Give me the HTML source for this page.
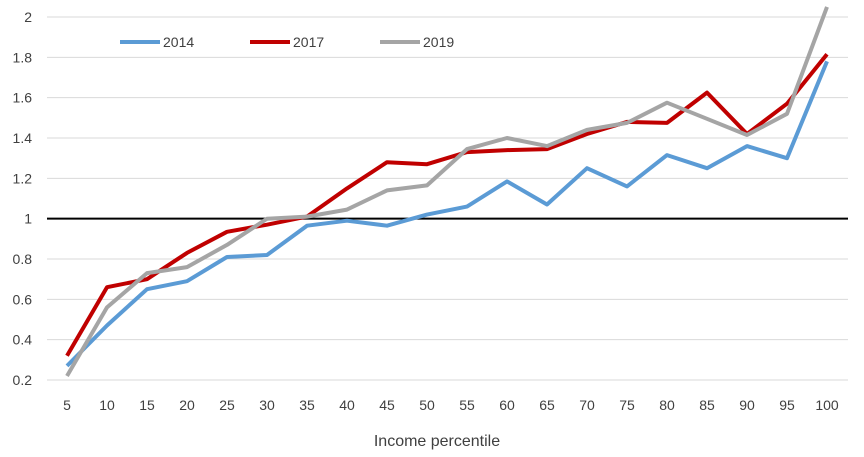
<!DOCTYPE html>
<html><head><meta charset="utf-8"><style>
html,body{margin:0;padding:0;background:#fff;}
svg{display:block;font-family:"Liberation Sans",Calibri,sans-serif;}
</style></head><body>
<svg id="c" width="864" height="457" xmlns="http://www.w3.org/2000/svg"></svg>
<script>
const s=document.getElementById('c');
const Y=v=>380-(v-0.2)*201.67, X=i=>67+i*40;
let h='<defs><clipPath id="cl"><rect x="40" y="3" width="820" height="400"/></clipPath></defs>';
for(let k=0;k<10;k++){const v=0.2+k*0.2,y=Y(v);
 if(Math.abs(v-1)>0.01)h+=`<line x1="47" x2="848" y1="${y}" y2="${y}" stroke="#d9d9d9" stroke-width="1"/>`;
 h+=`<text x="32" y="${y+5}" font-size="14" text-anchor="end" fill="#404040">${Math.abs(v-1)<0.01?'1':Math.abs(v-2)<0.01?'2':v.toFixed(1)}</text>`;}
h+=`<line x1="47" x2="848" y1="${Y(1)}" y2="${Y(1)}" stroke="#000" stroke-width="2"/>`;
for(let i=0;i<20;i++)h+=`<text x="${X(i)}" y="410" font-size="14" text-anchor="middle" fill="#404040">${(i+1)*5}</text>`;
h+=`<text x="437" y="446" font-size="16" text-anchor="middle" fill="#404040">Income percentile</text>`;
const d={
'#5B9BD5':[0.27,0.47,0.65,0.69,0.81,0.82,0.965,0.99,0.965,1.02,1.06,1.185,1.07,1.25,1.16,1.315,1.25,1.36,1.30,1.78],
'#C00000':[0.32,0.66,0.70,0.83,0.935,0.97,1.01,1.15,1.28,1.27,1.33,1.34,1.345,1.42,1.48,1.475,1.625,1.42,1.57,1.815],
'#A5A5A5':[0.22,0.56,0.73,0.76,0.87,1.0,1.01,1.045,1.14,1.165,1.345,1.40,1.36,1.44,1.475,1.575,1.495,1.415,1.52,2.05]};
for(const c in d)h+=`<polyline clip-path="url(#cl)" fill="none" stroke="${c}" stroke-width="4" stroke-linejoin="round" points="${d[c].map((v,i)=>X(i)+','+Y(v).toFixed(1)).join(' ')}"/>`;
[['#5B9BD5','2014',120],['#C00000','2017',250],['#A5A5A5','2019',380]].forEach(([c,t,x])=>{
 h+=`<line x1="${x}" x2="${x+40}" y1="42" y2="42" stroke="${c}" stroke-width="4"/><text x="${x+43}" y="47" font-size="14" fill="#404040">${t}</text>`;});
s.innerHTML=h;
</script>
</body></html>
